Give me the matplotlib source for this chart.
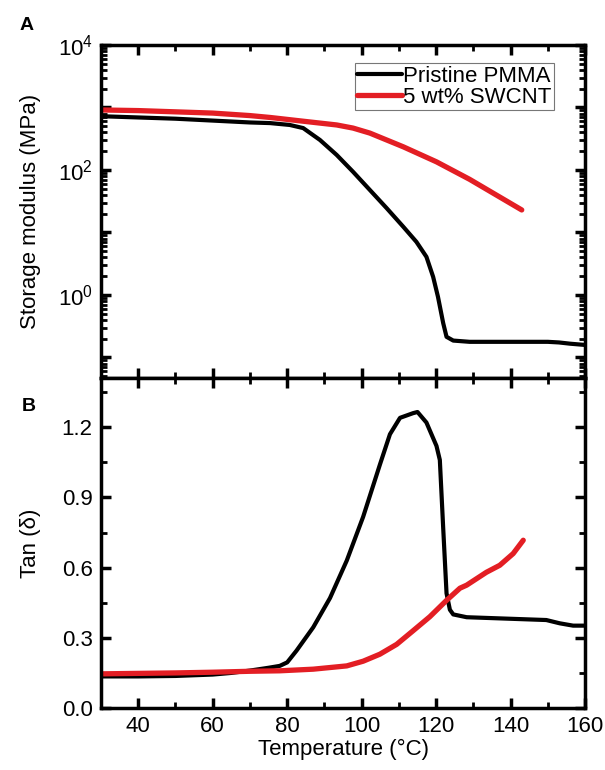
import numpy as np
import matplotlib
matplotlib.use("Agg")
import matplotlib.pyplot as plt
from matplotlib.ticker import LogLocator, MultipleLocator, NullFormatter

plt.rcParams['font.family'] = ['Liberation Sans', 'DejaVu Sans']
plt.rcParams['mathtext.fontset'] = 'custom'
plt.rcParams['mathtext.rm'] = 'Liberation Sans'
plt.rcParams['mathtext.it'] = 'Liberation Sans:italic'

# Storage modulus (MPa), log10 values
T_pmma_E = [30, 40, 50, 60, 70, 75.4, 80.7, 84.3, 88.8, 93.3, 97.7, 102.2, 106.7, 111.2, 114.7,
            117.4, 119.2, 120.5, 121.9, 122.8, 124.6, 129, 140, 150, 153, 156, 160]
logE_pmma = [2.86, 2.84, 2.82, 2.79, 2.76, 2.75, 2.72, 2.67, 2.48, 2.24, 1.97, 1.68, 1.39, 1.09, 0.85,
             0.61, 0.29, -0.03, -0.45, -0.67, -0.73, -0.75, -0.75, -0.75, -0.76, -0.78, -0.80]
T_swcnt_E = [30, 40, 50, 60, 70, 75.4, 84.3, 93.3, 97.7, 102.2, 111.2, 120.1, 129, 137, 143]
logE_swcnt = [2.96, 2.95, 2.93, 2.91, 2.87, 2.84, 2.78, 2.72, 2.67, 2.59, 2.37, 2.13, 1.85, 1.57, 1.36]

# Tan delta
T_pmma_tan = [30, 40, 50, 60, 65, 70, 75, 78, 80, 82.5, 87, 91.5, 96, 100.4, 104.9, 107.6, 110.3, 113.8,
              115, 117.4, 120.1, 121, 121.9, 122.8, 123.7, 124.6, 128.2, 137.1, 149.6, 153.2, 156.8, 160]
tan_pmma = [0.135, 0.135, 0.137, 0.143, 0.15, 0.16, 0.172, 0.18, 0.195, 0.245, 0.345, 0.47, 0.63, 0.817,
            1.04, 1.17, 1.24, 1.26, 1.265, 1.22, 1.12, 1.06, 0.77, 0.49, 0.42, 0.40, 0.388, 0.383, 0.376,
            0.362, 0.352, 0.352]
T_swcnt_tan = [30, 40, 50, 60, 70, 78, 87, 96, 100.4, 104.9, 109.4, 113.8, 118.3, 122.8, 126.4,
               128.2, 133.5, 137.1, 140.7, 143.4]
tan_swcnt = [0.146, 0.148, 0.15, 0.153, 0.157, 0.159, 0.166, 0.18, 0.20, 0.23, 0.272, 0.33, 0.39, 0.46,
             0.512, 0.525, 0.58, 0.61, 0.66, 0.717]

fig = plt.figure(figsize=(6.05, 7.70), dpi=100)
left, width = 0.167, 0.800
ax1 = fig.add_axes([left, 0.509, width, 0.9416 - 0.509])
ax2 = fig.add_axes([left, 0.0805, width, 0.509 - 0.0805])

fs = 16
red = '#e31e24'

ax1.plot(T_pmma_E, 10 ** np.array(logE_pmma), color='black', lw=3, label='Pristine PMMA',
         solid_capstyle='round', solid_joinstyle='round')
ax1.plot(T_swcnt_E, 10 ** np.array(logE_swcnt), color=red, lw=3.8, label='5 wt% SWCNT',
         solid_capstyle='round', solid_joinstyle='round')
ax1.set_yscale('log')
ax1.set_xlim(30, 160)
ax1.set_ylim(10 ** -1.33, 1e4)
ax1.yaxis.set_minor_locator(LogLocator(base=10, subs=np.arange(2, 10), numticks=20))
ax1.yaxis.set_minor_formatter(NullFormatter())
ax1.set_yticks([1e-1, 1e0, 1e1, 1e2, 1e3, 1e4])
ax1.set_yticklabels(['', r'$\mathregular{10^0}$', '', r'$\mathregular{10^2}$', '', r'$\mathregular{10^4}$'])
ax1.set_ylabel('Storage modulus (MPa)', fontsize=fs)
ax1.tick_params(axis='x', labelbottom=False)
leg = ax1.legend(loc='upper right', bbox_to_anchor=(0.935, 0.945), fontsize=fs, frameon=True, fancybox=False,
                 edgecolor='#555555', handlelength=2.0, handletextpad=0.05, borderpad=0.1, labelspacing=0.0,
                 borderaxespad=0)
leg.get_frame().set_linewidth(0.8)

ax2.plot(T_pmma_tan, tan_pmma, color='black', lw=3, solid_capstyle='round', solid_joinstyle='round')
ax2.plot(T_swcnt_tan, tan_swcnt, color=red, lw=3.8, solid_capstyle='round', solid_joinstyle='round')
ax2.set_xlim(30, 160)
ax2.set_ylim(0, 1.41)
ax2.yaxis.set_minor_locator(MultipleLocator(0.15))
ax2.set_yticks([0.0, 0.3, 0.6, 0.9, 1.2])
ax2.set_yticklabels(['0.0', '0.3', '0.6', '0.9', '1.2'])
ax2.set_ylabel('Tan (δ)', fontsize=fs)
ax2.set_xlabel('Temperature (°C)', fontsize=fs, labelpad=1)

for ax in (ax1, ax2):
    ax.xaxis.set_minor_locator(MultipleLocator(10))
    ax.set_xticks([40, 60, 80, 100, 120, 140, 160])
    ax.tick_params(which='major', direction='in', length=7, width=2.5, top=True, right=True,
                   labelsize=fs, pad=6)
    ax.tick_params(which='minor', direction='in', length=4, width=2, top=True, right=True)
    for s in ax.spines.values():
        s.set_linewidth(2.5)

ax1.yaxis.set_label_coords(-0.125, 0.5)
ax2.yaxis.set_label_coords(-0.125, 0.5)

fig.text(0.033, 0.967, 'A', fontsize=14, fontweight='bold', va='center')
fig.text(0.036, 0.472, 'B', fontsize=14, fontweight='bold', va='center')

fig.savefig('out.png', dpi=100)
